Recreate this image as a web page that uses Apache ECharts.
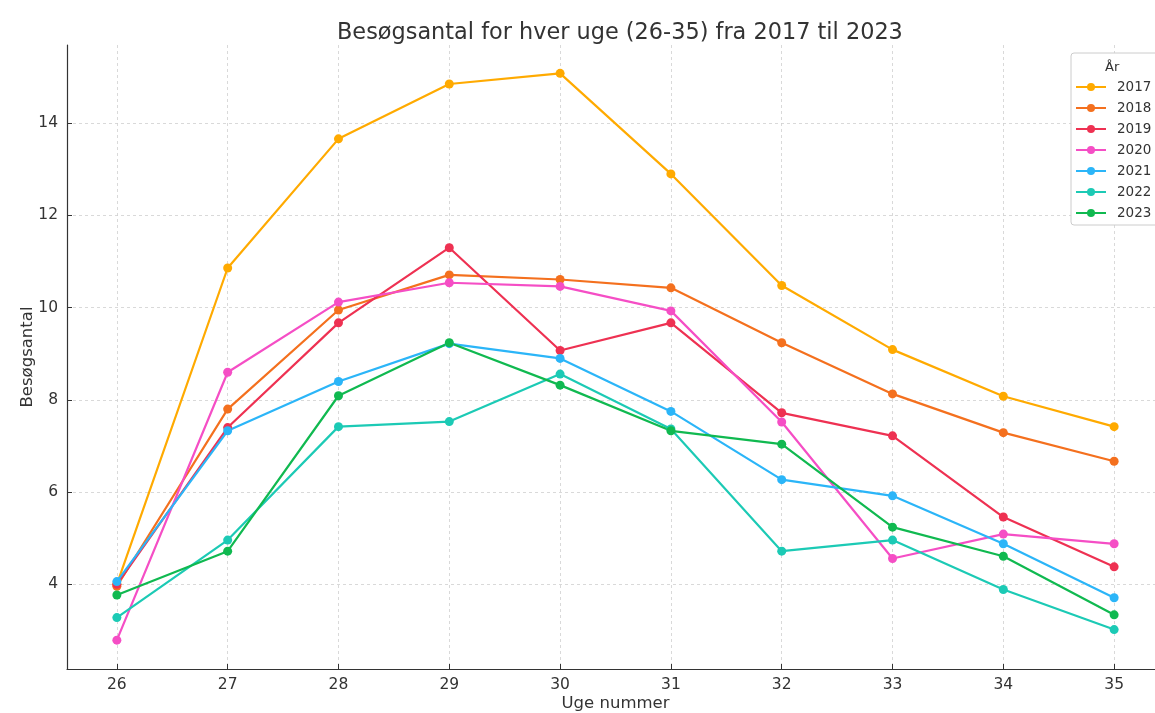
<!DOCTYPE html>
<html lang="da">
<head>
<meta charset="UTF-8">
<title>Besøgsantal</title>
<script src="https://cdn.jsdelivr.net/npm/echarts@6/dist/echarts.min.js"></script>
<style>
  html, body { margin: 0; padding: 0; background: #fff; }
  #main { width: 1155px; height: 713px; }
</style>
</head>
<body>
<div id="main"></div>
<script>
// uger og besøgstal
var weeks = [26, 27, 28, 29, 30, 31, 32, 33, 34, 35];
var yTicks = [4, 6, 8, 10, 12, 14];
var years = ['2017', '2018', '2019', '2020', '2021', '2022', '2023'];

var v2017 = [4.00, 10.86, 13.66, 14.85, 15.08, 12.90, 10.48, 9.09, 8.08, 7.42];
var v2018 = [3.96, 7.80, 9.95, 10.71, 10.61, 10.43, 9.24, 8.13, 7.29, 6.67];
var v2019 = [4.00, 7.40, 9.67, 11.30, 9.07, 9.67, 7.72, 7.22, 5.46, 4.38];
var v2020 = [2.79, 8.60, 10.12, 10.54, 10.46, 9.93, 7.52, 4.56, 5.09, 4.88];
var v2021 = [4.06, 7.33, 8.40, 9.22, 8.90, 7.75, 6.27, 5.92, 4.88, 3.71];
var v2022 = [3.28, 4.96, 7.42, 7.53, 8.56, 7.37, 4.72, 4.96, 3.89, 3.02];
var v2023 = [3.77, 4.72, 8.09, 9.24, 8.32, 7.33, 7.04, 5.24, 4.61, 3.34];

var values = [v2017, v2018, v2019, v2020, v2021, v2022, v2023];
var colors = ['#FFAA00', '#F4701E', '#EE3152', '#F54EC5', '#2BB5F8', '#1CCAB5', '#10B950'];

var font = 'DejaVu Sans';
var gridLine = { show: true, lineStyle: { color: '#d0d0d0', type: [3, 3], width: 0.8 } };

var chart = echarts.init(document.getElementById('main'));

var series = years.map(function (y, i) {
    return {
        name: y,
        type: 'line',
        data: weeks.map(function (w, j) { return [w, values[i][j]]; }),
        symbol: 'circle',
        symbolSize: 9,
        lineStyle: { width: 2.2 },
        itemStyle: { color: colors[i] },
        emphasis: { disabled: true },
        z: 3
    };
});

chart.setOption({
    animation: false,
    color: colors,
    title: [{
        text: 'Besøgsantal for hver uge (26-35) fra 2017 til 2023',
        left: 332,
        top: 17,
        textStyle: { fontFamily: font, fontSize: 22.4, fontWeight: 'normal', color: '#333' }
    }, {
        text: 'År',
        left: 1100,
        top: 56,
        textStyle: { fontFamily: font, fontSize: 13, fontWeight: 'normal', color: '#333' }
    }],
    legend: {
        data: years,
        orient: 'vertical',
        left: 1071,
        top: 53,
        padding: [27, 14, 5, 4],
        itemWidth: 30,
        itemHeight: 10,
        itemGap: 7,
        backgroundColor: '#fff',
        borderColor: '#cccccc',
        borderWidth: 1,
        borderRadius: 3,
        textStyle: { fontFamily: font, fontSize: 13.5, color: '#333', padding: [0, 0, 0, 6] }
    },
    grid: { left: 67, top: 45, width: 1097, height: 624, containLabel: false, outerBoundsMode: 'none' },
    xAxis: {
        type: 'value',
        min: 25.55,
        max: 35.45,
        name: 'Uge nummer',
        nameLocation: 'middle',
        nameGap: 26,
        nameMoveOverlap: false,
        nameTextStyle: { fontFamily: font, fontSize: 16.5, color: '#333' },
        axisLine: { show: true, onZero: false, lineStyle: { color: '#333', width: 1.2 } },
        axisTick: { show: true, inside: true, length: 5, customValues: weeks, lineStyle: { color: '#333' } },
        axisLabel: { customValues: weeks, margin: 8, fontFamily: font, fontSize: 15.5, color: '#333' },
        splitLine: gridLine
    },
    yAxis: {
        type: 'value',
        min: 2.165,
        max: 15.695,
        name: 'Besøgsantal',
        nameLocation: 'middle',
        nameGap: 31,
        nameMoveOverlap: false,
        nameTextStyle: { fontFamily: font, fontSize: 16.5, color: '#333' },
        axisLine: { show: true, onZero: false, lineStyle: { color: '#333', width: 1.2 } },
        axisTick: { show: true, inside: true, length: 5, customValues: yTicks, lineStyle: { color: '#333' } },
        axisLabel: { customValues: yTicks, margin: 9, fontFamily: font, fontSize: 15.5, color: '#333' },
        splitLine: gridLine
    },
    series: series
});
</script>
</body>
</html>
